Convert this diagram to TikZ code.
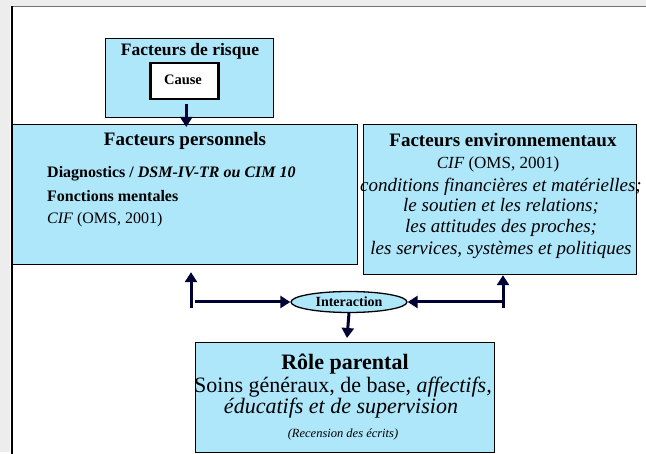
\documentclass[tikz,border=0pt]{standalone}
\usepackage{fontspec}
\setmainfont{LiberationSerif}[Extension=.ttf, UprightFont=*-Regular, BoldFont=*-Bold,
  ItalicFont=*-Italic, BoldItalicFont=*-BoldItalic]
\usetikzlibrary{arrows.meta, positioning, shapes.geometric, calc}
\definecolor{boxblue}{HTML}{AEE6FA}
\definecolor{navy}{HTML}{000033}
\begin{document}
\begin{tikzpicture}[
  x=1pt, y=-1pt,
  box/.style={draw, fill=boxblue, line width=1.2pt, anchor=north west, inner sep=0pt},
  txt/.style={inner sep=0pt, anchor=base},
  fs/.style={font=\fontsize{#1}{#1}\selectfont},
  arr/.style={-{Triangle[width=12pt, length=10pt]}, line width=3pt, draw=navy}
]
\useasboundingbox (0,0) rectangle (646,454);
\fill[black!7] (0,0) rectangle (646,6);
\fill[black!7] (0,0) rectangle (10,452);
\draw[black!55, line width=1.2pt] (12,6.5) -- (646,6.5);
\draw[line width=1.2pt] (12,6) -- (12,454);

\node[box, minimum width=168pt, minimum height=79pt] (risque) at (105,38) {};
\node[box, fill=white, line width=2.5pt, minimum width=68pt, minimum height=36pt] (cause) at (149,62) {};
\node[box, minimum width=345pt, minimum height=140pt] (pers) at (12,124) {};
\node[box, minimum width=273pt, minimum height=150pt] (env) at (363,124) {};
\node[box, minimum width=299pt, minimum height=110pt] (role) at (195,342) {};
\node[draw, ellipse, fill=boxblue, line width=1.3pt, minimum width=116pt, minimum height=21pt,
  inner sep=0pt, fs=14] (inter) at (349,302) {\bfseries Interaction};

\node[txt, fs=17.5] (risque-t) at (190,56) {\bfseries Facteurs de risque};
\node[txt, fs=14.5] (cause-t) at (183,85) {\bfseries Cause};

\node[txt, fs=19] (pers-t) at (185,146) {\bfseries Facteurs personnels};
\node[txt, fs=16, anchor=base west] (diag) at (47,178) {\bfseries Diagnostics / \itshape DSM-IV-TR ou CIM 10};
\node[txt, fs=16, anchor=base west] (fonc) at (47,202) {\bfseries Fonctions mentales};
\node[txt, fs=16, anchor=base west] (cif-p) at (47,224) {\itshape CIF\/ \upshape(OMS, 2001)};

\node[txt, fs=19] (env-t) at (503,147) {\bfseries Facteurs environnementaux};
\node[txt, fs=17] (cif-e) at (498,169) {\itshape CIF\/ \upshape(OMS, 2001)};
\node[txt, fs=19] (cond) at (501,192) {\itshape conditions financières et matérielles;};
\node[txt, fs=19] (soutien) at (501,212) {\itshape le soutien et les relations;};
\node[txt, fs=19] (attit) at (501,233) {\itshape les attitudes des proches;};
\node[txt, fs=19] (serv) at (501,255) {\itshape les services, systèmes et politiques};

\node[txt, fs=22] (role-t) at (345,370) {\bfseries Rôle parental};
\node[txt, fs=22] (soins) at (343,393) {Soins généraux, de base, \itshape affectifs,};
\node[txt, fs=22] (educ) at (341,414) {\itshape éducatifs et de supervision};
\node[txt, fs=12.5] (recens) at (343,438) {\itshape (Recension des écrits)};

\coordinate (lfoot) at (191,308);
\coordinate (lstart) at (195,302);
\coordinate (rfoot) at (503,308);

\draw[arr] ($(cause.south)+(2,4)$) -- ($(cause.south |- pers.north)+(2,3)$);
\draw[arr, shorten >=7pt] (lfoot) -- (lfoot |- pers.south);
\draw[arr] (lstart) -- (inter.west);
\draw[arr] (rfoot) -- (rfoot |- env.south);
\draw[arr] (rfoot |- inter.east) -- (inter.east);
\draw[arr] (inter.south) -- ($(inter.south |- role.north)+(-2,-4)$);
\end{tikzpicture}
\end{document}
